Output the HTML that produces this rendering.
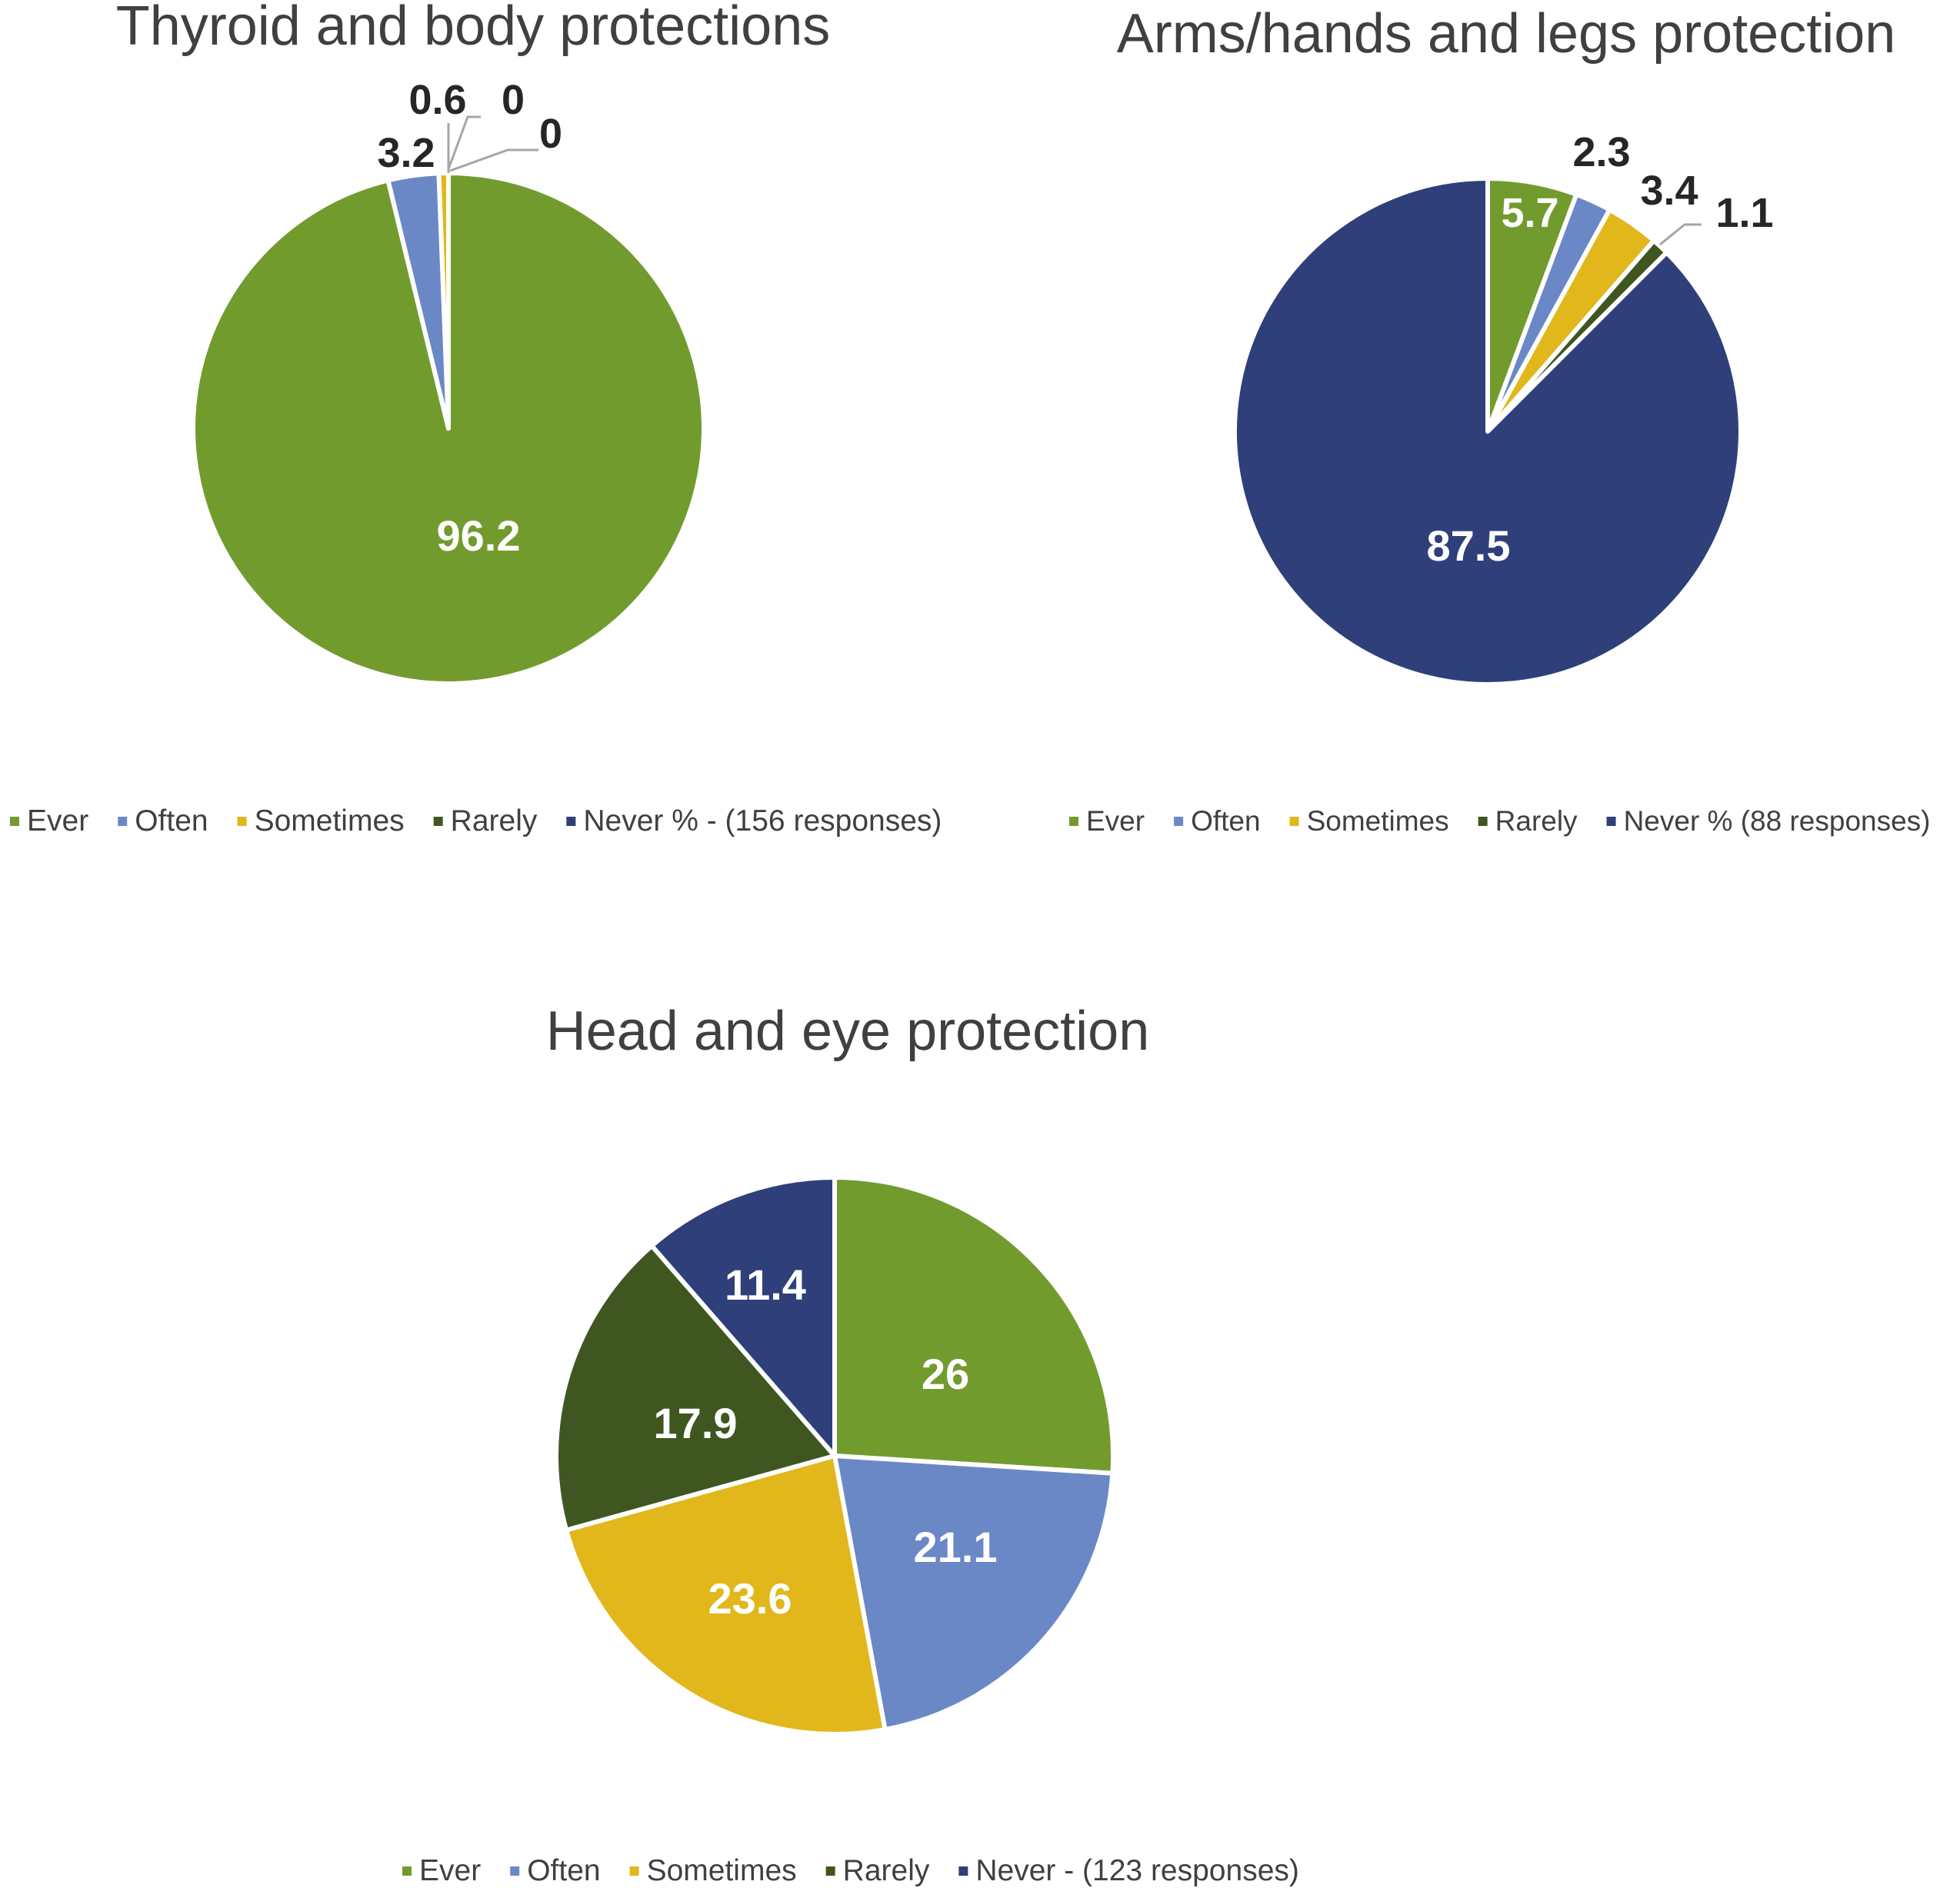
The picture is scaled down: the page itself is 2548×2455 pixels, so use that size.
<!DOCTYPE html>
<html><head><meta charset="utf-8"><style>
body{margin:0;background:#fff;}
svg{display:block;font-family:"Liberation Sans",sans-serif;}
</style></head><body>
<svg id="s" width="2548" height="2455" viewBox="0 0 2548 2455"></svg>
<script>
const categories=["Ever","Often","Sometimes","Rarely","Never"];
const colors=["#729b2e","#6b88c6","#e1b71b","#3f5621","#2f3f79"];
const thyroidValues=[96.2,3.2,0.6,0,0];
const armsValues=[5.7,2.3,3.4,1.1,87.5];
const headValues=[26,21.1,23.6,17.9,11.4];
const thyroidLabels=["96.2","3.2","0.6","0","0"];
const armsLabels=["5.7","2.3","3.4","1.1","87.5"];
const headLabels=["26","21.1","23.6","17.9","11.4"];
const NS="http://www.w3.org/2000/svg";
const svg=document.getElementById('s');
function mk(t,a,p){const e=document.createElementNS(NS,t);for(const k in a)e.setAttribute(k,a[k]);(p||svg).appendChild(e);return e;}
function pie(name,vals,cx,cy,r){
  const g=mk('g',{});
  
  
  const tot=vals.reduce((a,b)=>a+b,0);let a0=0;
  vals.forEach((v,i)=>{if(v<=0)return;const a1=a0+v/tot*2*Math.PI;
    const x0=cx+r*Math.sin(a0),y0=cy-r*Math.cos(a0),x1=cx+r*Math.sin(a1),y1=cy-r*Math.cos(a1);
    const p=mk('path',{d:`M${cx},${cy}L${x0},${y0}A${r},${r} 0 ${a1-a0>Math.PI?1:0} 1 ${x1},${y1}Z`,fill:colors[i],stroke:'#fff','stroke-width':6,'stroke-linejoin':'round'},g);
    
    
    a0=a1;});
}
function txt(name,s,x,y,size,fill,weight,anchor){const t=mk('text',{x:x,y:y,'font-size':size,fill:fill,'font-weight':weight||'normal','text-anchor':anchor||'middle'});t.textContent=s;
  
  return t;}
function legend(name,x,y,last,fs){
  const g=mk('g',{});
  
  
  const names=["Ever","Often","Sometimes","Rarely",last];let cx=x;
  names.forEach((n,i)=>{mk('rect',{x:cx,y:y-18,width:12,height:12,fill:colors[i]},g);
    const t=mk('text',{x:cx+22,y:y,'font-size':fs,fill:'#404040'},g);t.textContent=n;
    
    
    cx+=22+t.getComputedTextLength()+38;});
}
function line(pts){mk('polyline',{points:pts,fill:'none',stroke:'#a6a6a6','stroke-width':3});}
// Chart 1
txt('thyroid-title','Thyroid and body protections',615,58,72,'#404040');
pie('thyroid',thyroidValues,583,557,332);
line('583,225 583,160');line('583,220 608,152 625,152');line('585,222 660,195 700,195');
txt('thyroid-label-ever',thyroidLabels[0],622,716,56,'#fff','bold');
txt('thyroid-label-often',thyroidLabels[1],528,217,54,'#262626','bold');
txt('thyroid-label-sometimes',thyroidLabels[2],569,148,54,'#262626','bold');
txt('thyroid-label-rarely',thyroidLabels[3],667,148,54,'#262626','bold');
txt('thyroid-label-never',thyroidLabels[4],716,192,54,'#262626','bold');
legend('thyroid-legend',13,1080,'Never % - (156 responses)',39);
// Chart 2
txt('arms-title','Arms/hands and legs protection',1958,68,72,'#404040');
pie('arms',armsValues,1934,561,329);
line('2158,318 2190,292 2212,292');
txt('arms-label-ever',armsLabels[0],1989,295,54,'#fff','bold');
txt('arms-label-often',armsLabels[1],2082,216,54,'#262626','bold');
txt('arms-label-sometimes',armsLabels[2],2170,266,54,'#262626','bold');
txt('arms-label-rarely',armsLabels[3],2268,295,54,'#262626','bold');
txt('arms-label-never',armsLabels[4],1909,729,56,'#fff','bold');
legend('arms-legend',1390,1080,'Never % (88 responses)',37);
// Chart 3
txt('head-title','Head and eye protection',1102,1365,72,'#404040');
pie('head',headValues,1085,1893,362);
txt('head-label-ever',headLabels[0],1229,1806,56,'#fff','bold');
txt('head-label-often',headLabels[1],1242,2031,56,'#fff','bold');
txt('head-label-sometimes',headLabels[2],975,2098,56,'#fff','bold');
txt('head-label-rarely',headLabels[3],904,1870,56,'#fff','bold');
txt('head-label-never',headLabels[4],995,1690,56,'#fff','bold');
legend('head-legend',523,2445,'Never - (123 responses)',39);
</script>
</body></html>
